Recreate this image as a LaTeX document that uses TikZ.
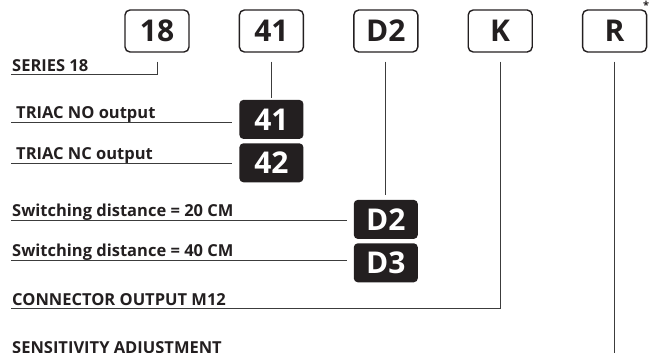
\documentclass[tikz,border=0pt]{standalone}
\usepackage{fontspec}
\setmainfont{Open Sans}
\usetikzlibrary{positioning}
\definecolor{codeink}{HTML}{231F20}
\definecolor{leadgray}{HTML}{3C3C3C}

\begin{document}
\begin{tikzpicture}[
    x=1pt, y=-1pt,
    font=\bfseries\fontsize{16.5}{16.5}\selectfont,
    node distance=49pt,
    codebox/.style={
        draw=codeink,
        line width=1.4pt,
        rounded corners=5pt,
        minimum width=64pt,
        minimum height=42pt,
        inner sep=0pt,
        text=codeink,
        font=\bfseries\fontsize{30}{30}\selectfont
    },
    optbox/.style={
        fill=codeink,
        rounded corners=4pt,
        minimum width=64pt,
        minimum height=39pt,
        inner sep=0pt,
        text=white,
        font=\bfseries\fontsize{30}{30}\selectfont
    },
    lbl/.style={
        anchor=base west,
        inner sep=0pt,
        text=codeink
    },
    lead/.style={
        draw=leadgray,
        line width=0.9pt
    }
]
\useasboundingbox (0,0) rectangle (650,353);
\clip (0,0) rectangle (650,353);

% Ordering code
\node[codebox] (c18) at (157,31) {18};
\node[codebox, right=of c18] (c41) {41};
\node[codebox, right=of c41] (cD2) {D2};
\node[codebox, right=of cD2] (cK) {K};
\node[codebox, right=of cK] (cR) {R};
\node[anchor=north west, inner sep=0pt, text=codeink,
    font=\bfseries\fontsize{11}{11}\selectfont] (star) at (643,1) {*};

% Options
\node[optbox, below=47pt of c41] (o41) {41};
\node[optbox, below=4pt of o41] (o42) {42};
\node[optbox, below=147pt of cD2] (oD2) {D2};
\node[optbox, below=4pt of oD2] (oD3) {D3};

% Descriptions
\node[lbl] (lblSeries) at (12,71) {SERIES 18};
\node[lbl] (lblNO) at (16,118) {TRIAC NO output};
\node[lbl] (lblNC) at (16,159) {TRIAC NC output};
\node[lbl] (lblSw20) at (12,216) {Switching distance = 20 CM};
\node[lbl] (lblSw40) at (12,256) {Switching distance = 40 CM};
\node[lbl] (lblConn) at (12,305) {CONNECTOR OUTPUT M12};
\node[lbl] (lblSens) at (12,353) {SENSITIVITY ADJUSTMENT};

% Leaders
\draw[lead] ([yshift=-9pt]c18.south) |- ([xshift=-1pt,yshift=-3.5pt]lblSeries.base west);
\draw[lead, shorten >=2pt] ([yshift=-9pt]c41.south) -- (o41.north);
\draw[lead, shorten >=5pt] ([yshift=-9pt]cD2.south) -- (oD2.north);
\draw[lead] ([yshift=-9pt]cK.south) |- ([xshift=-1pt,yshift=-3.5pt]lblConn.base west);
\draw[lead] ([yshift=-9pt]cR.south) |- ([xshift=-1pt,yshift=-3.5pt]lblSens.base west);

\draw[lead, shorten >=7pt] ([xshift=-5pt,yshift=-4pt]lblNO.base west) coordinate (noLine)
    -- (noLine -| o41.west);
\draw[lead, shorten >=7pt] ([xshift=-5pt,yshift=-4pt]lblNC.base west) coordinate (ncLine)
    -- (ncLine -| o42.west);
\draw[lead, shorten >=7pt] ([xshift=-1pt,yshift=-4pt]lblSw20.base west) coordinate (swaLine)
    -- (swaLine -| oD2.west);
\draw[lead, shorten >=7pt] ([xshift=-1pt,yshift=-4pt]lblSw40.base west) coordinate (swbLine)
    -- (swbLine -| oD3.west);

\end{tikzpicture}
\end{document}
